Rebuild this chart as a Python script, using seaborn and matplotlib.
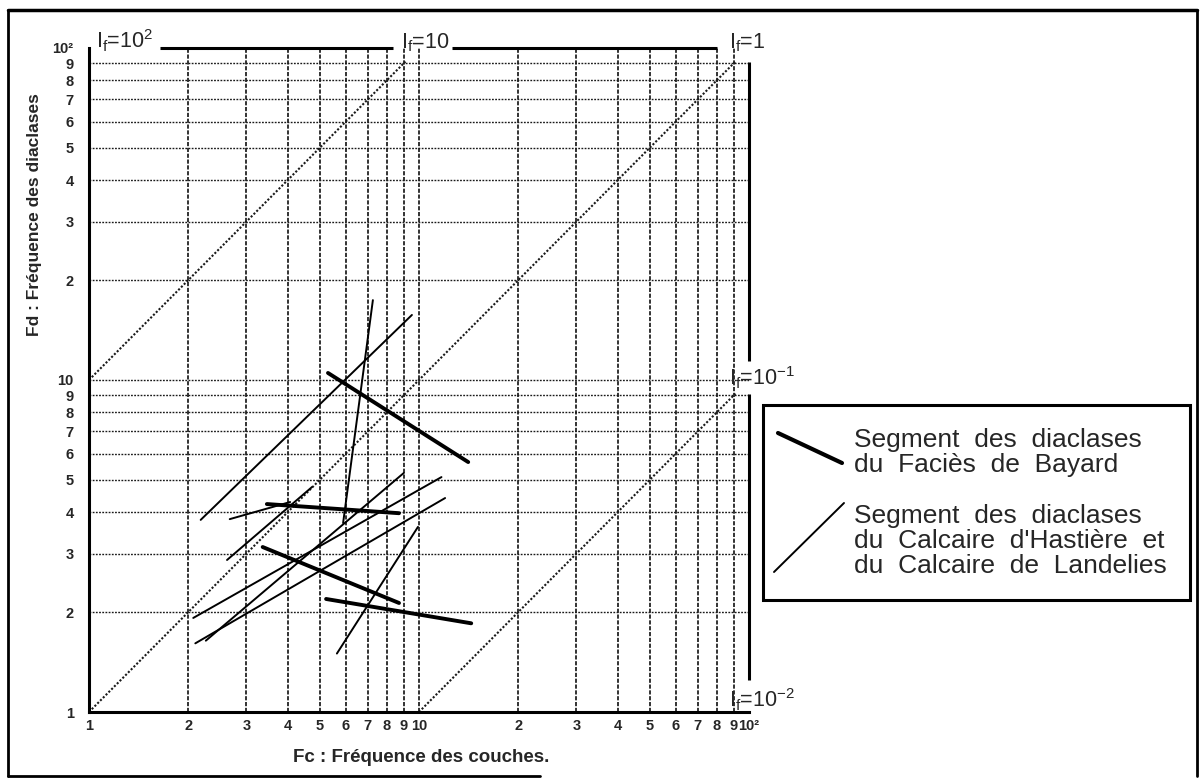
import numpy as np
import pandas as pd
import seaborn as sns
import matplotlib.pyplot as plt
from matplotlib.lines import Line2D
from matplotlib.patches import Rectangle

# Segment end points (Fc, Fd)
#-------------------------------------------------------------------------------------------------#
bayard_fc0 = [5.30, 3.46, 3.36, 5.23]
bayard_fd0 = [10.5, 4.23, 3.14, 2.19]
bayard_fc1 = [14.1, 8.70, 8.70, 14.4]
bayard_fd1 = [5.66, 3.97, 2.13, 1.85]

hast_fc0 = [2.07, 2.10, 2.26, 2.62, 2.67, 2.18, 5.89, 5.64]
hast_fd0 = [1.92, 1.61, 1.64, 2.87, 3.81, 3.79, 3.71, 1.50]
hast_fc1 = [11.7, 12.0, 9.00, 4.74, 4.07, 9.52, 7.25, 9.93]
hast_fd1 = [5.10, 4.41, 5.25, 4.76, 4.29, 15.7, 17.4, 3.61]

# iso-lines If = Fd / Fc
if_lines = [10, 1, 0.1]
if_labels = ["10$^{2}$", "10", "1", "10$^{-1}$", "10$^{-2}$"]

ticks = [1, 2, 3, 4, 5, 6, 7, 8, 9, 10, 20, 30, 40, 50, 60, 70, 80, 90, 100]
tick_labels = ["1", "2", "3", "4", "5", "6", "7", "8", "9", "10",
               "2", "3", "4", "5", "6", "7", "8", "9", "10²"]

legend_txt_1 = ["Segment  des  diaclases", "du  Faciès  de  Bayard"]
legend_txt_2 = ["Segment  des  diaclases", "du  Calcaire  d'Hastière  et", "du  Calcaire  de  Landelies"]


def seg_frame(fc0, fd0, fc1, fd1):
    rows = []
    for i in range(len(fc0)):
        rows.append({"seg": i, "fc": fc0[i], "fd": fd0[i]})
        rows.append({"seg": i, "fc": fc1[i], "fd": fd1[i]})
    return pd.DataFrame(rows)


sns.set_style("white")
plt.rcParams['font.family'] = ['Liberation Sans', 'DejaVu Sans']
plt.rcParams['mathtext.fontset'] = 'custom'
plt.rcParams['mathtext.rm'] = 'Liberation Sans'
plt.rcParams['mathtext.it'] = 'Liberation Sans:italic'
plt.rcParams['mathtext.bf'] = 'Liberation Sans:bold'

fig = plt.figure(figsize=(12.01, 7.79), dpi=100)
ax = fig.add_axes([0.0741, 0.0860, 0.5495, 0.8524])
ax.set_xscale('log')
ax.set_yscale('log')
ax.set_xlim(1, 100)
ax.set_ylim(1, 100)

# grid
inner = ticks[1:-1]
ax.vlines(inner, 1, 100, colors='#111111', linestyles=(0, (2.5, 1.0)), linewidth=1.2, zorder=1)
ax.hlines(inner, 1, 100, colors='#1a1a1a', linestyles=(0, (1.3, 1.0)), linewidth=1.0, zorder=1)

# iso-If diagonals (dotted)
diag_rows = []
for k, v in enumerate(if_lines):
    x0 = max(1.0, 1.0 / v)
    x1 = min(100.0, 100.0 / v) * 0.91
    diag_rows += [{"seg": k, "fc": x0, "fd": x0 * v}, {"seg": k, "fc": x1, "fd": x1 * v}]
diag = pd.DataFrame(diag_rows)
sns.lineplot(data=diag, x="fc", y="fd", units="seg", estimator=None, sort=False,
             color='#1a1a1a', linewidth=1.5, linestyle=(0, (1.0, 0.9)), ax=ax, zorder=2)

# segments
sns.lineplot(data=seg_frame(hast_fc0, hast_fd0, hast_fc1, hast_fd1), x="fc", y="fd",
             units="seg", estimator=None, sort=False, color='black', linewidth=1.4, ax=ax, zorder=3)
sns.lineplot(data=seg_frame(bayard_fc0, bayard_fd0, bayard_fc1, bayard_fd1), x="fc", y="fd",
             units="seg", estimator=None, sort=False, color='black', linewidth=2.8, ax=ax, zorder=4)

# frame: left/bottom spines, broken top and right lines around the If labels
for s in ['top', 'right']:
    ax.spines[s].set_visible(False)
for s in ['left', 'bottom']:
    ax.spines[s].set_linewidth(2.2)
    ax.spines[s].set_color('black')
for a, b in [(1.64, 8.35), (12.6, 80.0)]:
    ax.plot([a, b], [100, 100], color='black', lw=2.2, clip_on=False, solid_capstyle='butt')
for a, b in [(1.25, 9.1), (11.4, 90.8)]:
    ax.plot([100, 100], [a, b], color='black', lw=2.2, clip_on=False, solid_capstyle='butt')

lbl_pos = [(1.05, 100), (8.8, 100), (87, 100), (87, 9.66), (87, 1.035)]
for (x, y), t in zip(lbl_pos, if_labels):
    ax.text(x, y, r'I$_{\mathrm{f}}$=' + t, fontsize=15.5, ha='left', va='baseline',
            clip_on=False, zorder=5)

ax.set_xticks(ticks)
ax.set_xticklabels(tick_labels)
ax.set_yticks(ticks)
ax.set_yticklabels(tick_labels)
ax.minorticks_off()
ax.tick_params(axis='x', length=0, pad=5, labelsize=10.5)
ax.tick_params(axis='y', length=0, pad=11, labelsize=10.5)
for lbl in ax.get_xticklabels() + ax.get_yticklabels():
    lbl.set_fontweight('bold')

ax.set_xlabel("Fc : Fréquence des couches.", fontsize=13.5, fontweight='bold', va='center')
ax.xaxis.set_label_coords(0.503, -0.068)
ax.set_ylabel("Fd : Fréquence des diaclases", fontsize=12.5, fontweight='bold', va='center')
ax.yaxis.set_label_coords(-0.083, 0.749)

# legend box
W, H = 1201.0, 779.0
fig.patches.append(Rectangle((763 / W, 1 - 600 / H), (1190 - 763) / W, (600 - 405) / H,
                             transform=fig.transFigure, fill=False, lw=2.2, ec='black'))
fig.lines.append(Line2D([778 / W, 842 / W], [1 - 433 / H, 1 - 463 / H], transform=fig.transFigure,
                        color='black', lw=3.0))
fig.lines.append(Line2D([844 / W, 774 / W], [1 - 503 / H, 1 - 572 / H], transform=fig.transFigure,
                        color='black', lw=1.4))
for i, t in enumerate(legend_txt_1):
    fig.text(854 / W, 1 - (446.7 + 25 * i) / H, t, fontsize=19, ha='left', va='baseline')
for i, t in enumerate(legend_txt_2):
    fig.text(854 / W, 1 - (523 + 25 * i) / H, t, fontsize=19, ha='left', va='baseline')

# outer scanned frame
fig.lines.append(Line2D([8 / W, 1197 / W], [1 - 10 / H, 1 - 10 / H], transform=fig.transFigure, color='black', lw=2.5))
fig.lines.append(Line2D([8 / W, 8 / W], [1 - 10 / H, 1 - 776 / H], transform=fig.transFigure, color='black', lw=2.0))
fig.lines.append(Line2D([1197 / W, 1197 / W], [1 - 10 / H, 1 - 776 / H], transform=fig.transFigure, color='black', lw=2.0))
fig.lines.append(Line2D([8 / W, 540 / W], [1 - 776 / H, 1 - 776 / H], transform=fig.transFigure, color='black', lw=2.0))

fig.savefig("out.png", dpi=100)
